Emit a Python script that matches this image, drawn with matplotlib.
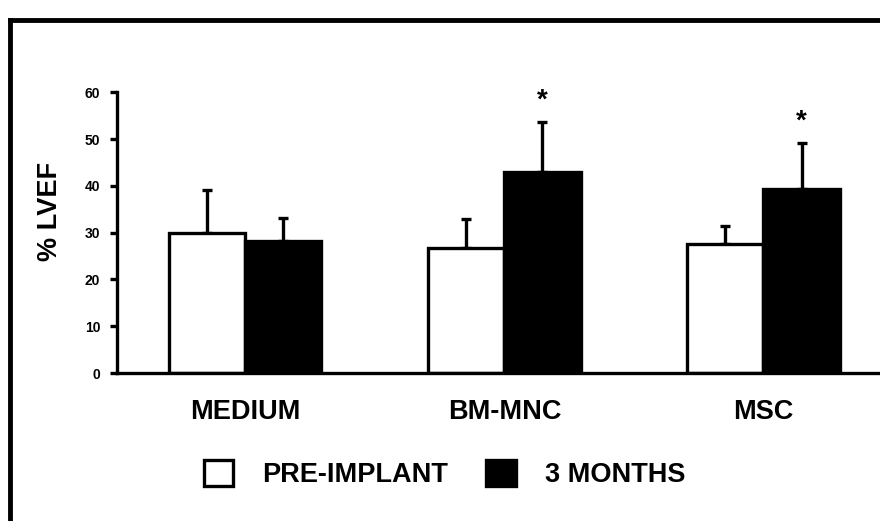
import numpy as np
import matplotlib
matplotlib.use("Agg")
import matplotlib.pyplot as plt
from matplotlib.lines import Line2D
from matplotlib.patches import Patch

groups = ["MEDIUM", "BM-MNC", "MSC"]
pre_mean = [30.0, 26.7, 27.6]
pre_sd = [9.1, 6.2, 3.8]
post_mean = [28.2, 43.0, 39.3]
post_sd = [4.9, 10.6, 9.8]
significant = [False, True, True]
series_names = ["PRE-IMPLANT", "3 MONTHS"]

plt.rcParams['font.family'] = ['Liberation Sans', 'DejaVu Sans']
plt.rcParams['font.weight'] = 'bold'

fig = plt.figure(figsize=(8.8, 5.21), dpi=100)
ax = fig.add_axes([0.133, 0.284, 0.867, 0.539])

x = np.arange(len(groups))
w = 0.294
lw = 2.4

ax.bar(x - w / 2, pre_mean, w, color="white", edgecolor="black", linewidth=lw, zorder=2)
ax.bar(x + w / 2, post_mean, w, color="black", edgecolor="black", linewidth=lw, zorder=2)
ax.errorbar(x - w / 2, pre_mean, yerr=[np.zeros(3), pre_sd], fmt="none",
            ecolor="black", elinewidth=lw, capsize=3.5, capthick=lw, zorder=1)
ax.errorbar(x + w / 2, post_mean, yerr=[np.zeros(3), post_sd], fmt="none",
            ecolor="black", elinewidth=lw, capsize=3.5, capthick=lw, zorder=1)

for i in range(len(groups)):
    if significant[i]:
        ax.annotate("*", (x[i] + w / 2, post_mean[i] + post_sd[i]), xytext=(0, 6),
                    textcoords="offset points", ha="center", va="bottom",
                    fontsize=20, fontweight="bold")

ax.set_xlim(-0.495, 2.45)
ax.set_ylim(0, 60)
ax.set_yticks(range(0, 61, 10))
ax.set_xticks(x)
ax.set_xticklabels(groups, fontsize=19.5, fontweight="bold")
ax.tick_params(axis="x", length=0, pad=19)
ax.tick_params(axis="y", length=5, width=lw, labelsize=10, pad=7)
for t in ax.get_yticklabels():
    t.set_fontweight("bold")
ax.spines["top"].set_visible(False)
ax.spines["right"].set_visible(False)
ax.spines["left"].set_linewidth(lw)
ax.spines["bottom"].set_linewidth(lw)

# y label sits a bit above the axis centre in the original
fig.text(50 / 880, 1 - 211 / 521, "% LVEF", rotation=90, ha="center", va="center",
         fontsize=19.5, fontweight="bold")

handles = [Patch(facecolor="white", edgecolor="black", linewidth=2.4),
           Patch(facecolor="black", edgecolor="black", linewidth=2.4)]
fig.legend(handles, series_names, loc="center", bbox_to_anchor=(0.505, 0.09),
           ncol=2, frameon=False, prop={"size": 19.5, "weight": "bold"},
           handlelength=1.1, handleheight=1.1, handletextpad=1.07, columnspacing=1.4)

# outer frame (top and left edges visible)
fig.add_artist(Line2D([0.0114, 0.0114], [0.0, 0.962], color="black", linewidth=3.5))
fig.add_artist(Line2D([0.0114, 1.0], [0.962, 0.962], color="black", linewidth=3.5))

fig.savefig("out.png", dpi=100)
